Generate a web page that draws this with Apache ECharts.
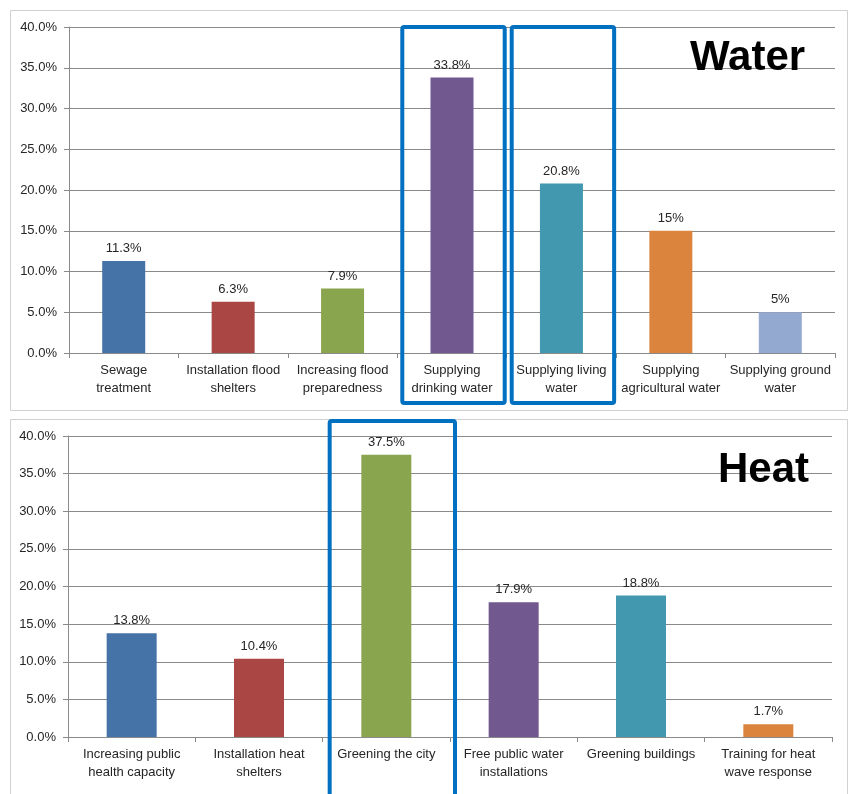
<!DOCTYPE html>
<html>
<head>
<meta charset="utf-8">
<script src="https://cdn.jsdelivr.net/npm/echarts@6/dist/echarts.min.js"></script>
<style>
  html, body { margin: 0; padding: 0; background: #fff; }
  #chart { width: 851px; height: 794px; }
</style>
</head>
<body>
<div id="chart"></div>
<script>
// Water adaptation measures (share of responses, %)
const waterCategories = [
  'Sewage\ntreatment',
  'Installation flood\nshelters',
  'Increasing flood\npreparedness',
  'Supplying\ndrinking water',
  'Supplying living\nwater',
  'Supplying\nagricultural water',
  'Supplying ground\nwater'
];
const waterValues = [11.3, 6.3, 7.9, 33.8, 20.8, 15, 5];

// Heat adaptation measures (share of responses, %)
const heatCategories = [
  'Increasing public\nhealth capacity',
  'Installation heat\nshelters',
  'Greening the city',
  'Free public water\ninstallations',
  'Greening buildings',
  'Training for heat\nwave response'
];
const heatValues = [13.8, 10.4, 37.5, 17.9, 18.8, 1.7];

const yTicks = { min: 0, max: 40, interval: 5 };

// Highlighted categories in each panel
const waterHighlight = [3, 4];
const heatHighlight = [2];

const waterColors = ['#4572a7', '#aa4643', '#89a54e', '#71588f', '#4198af', '#db843d', '#93a9cf'];
const heatColors = ['#4572a7', '#aa4643', '#89a54e', '#71588f', '#4198af', '#db843d'];

const FONT = '"Liberation Sans Narrow", "Liberation Sans", Arial, sans-serif';
const TEXT = '#262626';
const GRID_LINE = '#8a8a8a';

function valueAxis(gridIndex) {
  return {
    type: 'value', gridIndex,
    min: yTicks.min, max: yTicks.max, interval: yTicks.interval,
    axisLine: { show: true, lineStyle: { color: GRID_LINE, width: 1 } },
    axisTick: { show: true, length: 5, lineStyle: { color: GRID_LINE } },
    splitLine: { show: true, lineStyle: { color: GRID_LINE, width: 1 } },
    axisLabel: {
      color: TEXT, fontFamily: FONT, fontSize: 13, margin: 12,
      formatter: v => v.toFixed(1) + '%'
    }
  };
}

function categoryAxis(gridIndex, data) {
  return {
    type: 'category', gridIndex, data,
    axisLine: { show: true, lineStyle: { color: GRID_LINE, width: 1 } },
    axisTick: { show: true, length: 5, lineStyle: { color: GRID_LINE } },
    axisLabel: {
      color: TEXT, fontFamily: FONT, fontSize: 13, lineHeight: 18,
      margin: 8, interval: 0
    }
  };
}

function barSeries(idx, values, colors, width) {
  return {
    type: 'bar', xAxisIndex: idx, yAxisIndex: idx,
    barWidth: width,
    data: values.map((v, i) => ({ value: v, itemStyle: { color: colors[i] } })),
    label: {
      show: true, position: 'top', distance: 6,
      color: TEXT, fontFamily: FONT, fontSize: 13,
      formatter: p => p.value + '%'
    }
  };
}

const chart = echarts.init(document.getElementById('chart'), null, { renderer: 'canvas' });

const option = {
  backgroundColor: '#ffffff',
  animation: false,
  grid: [
    { left: 69, right: 16, top: 27, height: 326 },
    { left: 68, right: 19, top: 436, height: 301 }
  ],
  xAxis: [categoryAxis(0, waterCategories), categoryAxis(1, heatCategories)],
  yAxis: [valueAxis(0), valueAxis(1)],
  series: [
    barSeries(0, waterValues, waterColors, 43),
    barSeries(1, heatValues, heatColors, 50)
  ]
};
chart.setOption(option);

// Panel frames, titles and highlight boxes placed from the axis scales
function bandOf(axisIndex, catIndex, count) {
  const c = chart.convertToPixel({ xAxisIndex: axisIndex }, catIndex);
  const a = chart.convertToPixel({ xAxisIndex: axisIndex }, 0);
  const b = chart.convertToPixel({ xAxisIndex: axisIndex }, count - 1);
  const w = (b - a) / (count - 1);
  return { left: c - w / 2, right: c + w / 2 };
}

const BOX = '#0070c0';
const graphics = [];

graphics.push({
  type: 'rect', z: -1, silent: true,
  shape: { x: 10.5, y: 10.5, width: 837, height: 400 },
  style: { fill: null, stroke: '#d0d0d0', lineWidth: 1 }
});
graphics.push({
  type: 'rect', z: -1, silent: true,
  shape: { x: 10.5, y: 419.5, width: 837, height: 380 },
  style: { fill: null, stroke: '#d0d0d0', lineWidth: 1 }
});

graphics.push({
  type: 'text', left: 690, top: 37,
  style: { text: 'Water', fill: '#000', font: 'bold 42px ' + FONT }
});
graphics.push({
  type: 'text', left: 718, top: 449,
  style: { text: 'Heat', fill: '#000', font: 'bold 42px ' + FONT }
});

const topY = chart.convertToPixel({ yAxisIndex: 0 }, yTicks.max);
const zeroY = chart.convertToPixel({ yAxisIndex: 0 }, 0);
waterHighlight.forEach(i => {
  const band = bandOf(0, i, waterCategories.length);
  const x0 = band.left + 5, x1 = band.right - 2;
  graphics.push({
    type: 'rect', silent: true, z: 10,
    shape: { x: x0, y: topY, width: x1 - x0, height: zeroY + 50 - topY, r: 2 },
    style: { fill: null, stroke: BOX, lineWidth: 4 }
  });
});

const heatZero = chart.convertToPixel({ yAxisIndex: 1 }, 0);
heatHighlight.forEach(i => {
  const band = bandOf(1, i, heatCategories.length);
  const x0 = band.left + 7, x1 = band.right + 5;
  graphics.push({
    type: 'rect', silent: true, z: 10,
    shape: { x: x0, y: 421, width: x1 - x0, height: heatZero + 60 - 421, r: 2 },
    style: { fill: null, stroke: BOX, lineWidth: 4 }
  });
});

chart.setOption({ graphic: graphics });
</script>
</body>
</html>
